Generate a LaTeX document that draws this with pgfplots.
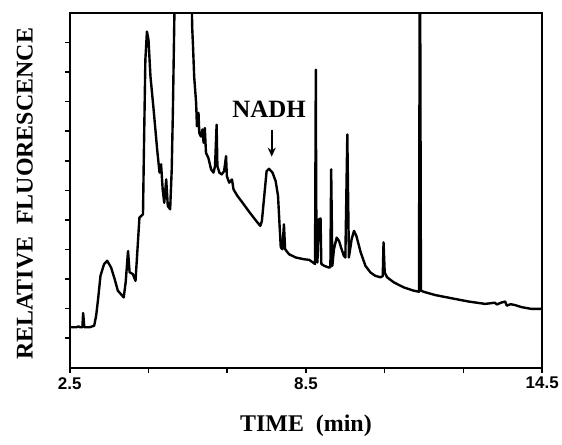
\documentclass[border=0pt]{standalone}
\usepackage{pgfplots}
\pgfplotsset{compat=1.18}
\usepackage{fontspec}
\setmainfont{Liberation Serif}
\setsansfont{Liberation Sans}
\usetikzlibrary{arrows.meta}

\pgfplotstableread{
t v
2.50 1.37
2.67 1.37
2.72 1.40
2.76 1.37
2.82 1.37
2.84 1.85
2.87 1.37
3.00 1.37
3.12 1.42
3.17 1.76
3.22 2.33
3.28 3.11
3.37 3.50
3.45 3.62
3.55 3.39
3.64 3.00
3.72 2.61
3.87 2.38
3.92 2.89
3.98 3.95
4.02 3.23
4.10 3.17
4.17 2.94
4.21 3.79
4.27 5.08
4.36 5.19
4.38 7.04
4.42 10.41
4.46 11.37
4.50 11.09
4.55 9.85
4.63 8.73
4.72 7.38
4.78 6.60
4.82 6.88
4.86 6.03
4.90 5.58
4.95 6.37
4.99 5.47
5.05 5.36
5.09 6.71
5.12 8.73
5.17 13.00
5.59 13.00
5.61 11.50
5.63 10.90
5.66 9.85
5.71 8.95
5.73 8.17
5.77 8.62
5.79 7.94
5.83 7.82
5.87 8.06
5.90 7.61
5.93 8.11
5.96 7.27
6.02 7.10
6.09 6.71
6.15 6.60
6.19 6.82
6.23 8.22
6.25 6.82
6.30 6.60
6.36 6.54
6.42 6.65
6.47 7.16
6.49 6.48
6.55 6.26
6.62 6.37
6.66 6.03
6.76 5.81
6.89 5.58
7.01 5.36
7.14 5.13
7.27 4.91
7.34 4.80
7.38 4.96
7.44 5.81
7.50 6.65
7.56 6.73
7.65 6.60
7.73 6.31
7.79 5.81
7.83 4.80
7.86 4.07
7.90 4.01
7.94 4.85
7.97 4.01
8.07 3.84
8.24 3.73
8.45 3.67
8.58 3.65
8.68 3.56
8.73 3.51
8.75 10.08
8.76 5.50
8.79 3.56
8.83 5.02
8.87 5.05
8.89 3.51
8.96 3.45
9.08 3.39
9.12 3.40
9.14 6.71
9.17 3.45
9.21 4.01
9.28 4.40
9.34 4.29
9.39 4.07
9.46 3.79
9.50 3.73
9.55 7.89
9.59 3.73
9.66 4.35
9.72 4.63
9.78 4.46
9.89 3.90
10.01 3.45
10.14 3.22
10.26 3.11
10.39 3.06
10.45 3.10
10.47 4.24
10.50 3.22
10.56 3.06
10.73 2.89
10.98 2.72
11.23 2.61
11.37 2.57
11.39 13.00
11.40 13.00
11.42 2.61
11.49 2.57
11.78 2.46
12.20 2.35
12.63 2.24
13.05 2.16
13.30 2.20
13.35 2.14
13.45 2.20
13.56 2.24
13.60 2.10
13.70 2.15
13.81 2.12
13.98 2.05
14.23 1.99
14.50 1.99
}\chrom

\begin{document}
\begin{tikzpicture}
% keep the reference's margins
\path (-70pt,-77pt) rectangle (492pt,369pt);
\begin{axis}[
    scale only axis,
    width=474pt, height=356pt,
    xmin=2.5, xmax=14.5,
    ymin=0, ymax=12,
    xtick={2.5,4.5,6.5,8.5,10.5,12.5,14.5},
    xticklabels={2.5,,,8.5,,,14.5},
    ytick={1,2,...,11},
    yticklabels={},
    xtick pos=bottom, ytick pos=left,
    tick align=outside,
    major tick length=5pt,
    axis line style={line width=1.8pt},
    every tick/.style={line width=1.5pt, black},
    /pgf/number format/assume math mode=true,
    xticklabel style={font=\fontsize{17}{19}\selectfont\sffamily\bfseries, yshift=-1pt},
    xlabel={TIME\ \ (min)},
    ylabel={RELATIVE\ \ FLUORESCENCE},
    xlabel style={font=\fontsize{24}{28}\selectfont\bfseries,
        at={([yshift=-58pt]axis description cs:0.5,0)}, anchor=center},
    ylabel style={font=\fontsize{24}{28}\selectfont\bfseries,
        at={([xshift=-45pt]axis description cs:0,0.49)}, anchor=center},
]
\addplot[black, line width=2.4pt, line join=round] table[x=t, y=v] {\chrom};
\node[font=\fontsize{25}{28}\selectfont\bfseries] at (axis cs:7.56,8.73) {NADH};
\draw[-{Stealth[length=9pt,width=8pt]}, line width=1.8pt] (axis cs:7.63,8.05) -- (axis cs:7.63,7.14);
\end{axis}
\end{tikzpicture}
\end{document}
